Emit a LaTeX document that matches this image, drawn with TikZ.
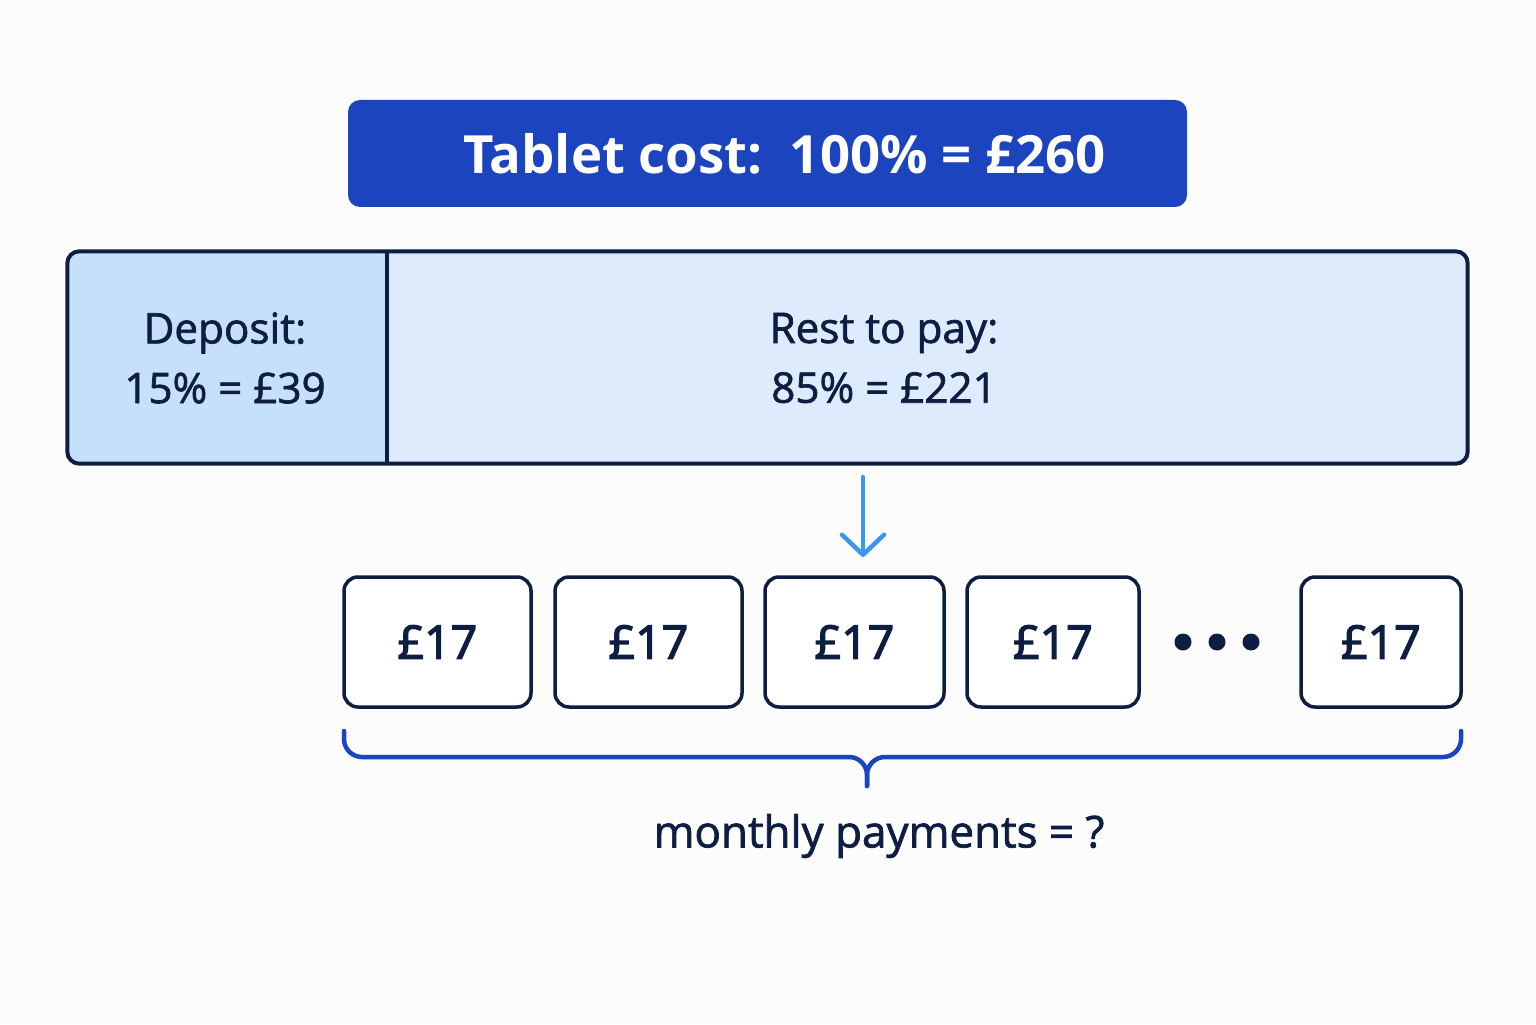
\documentclass[tikz,border=0pt]{standalone}
\usepackage{fontspec}
\setmainfont{Open Sans}
\newfontfamily\medfont[FakeBold=1.6]{Open Sans}
\newfontfamily\semifont[FakeBold=3]{Open Sans}
\usetikzlibrary{arrows.meta, positioning}

\definecolor{bgwhite}{RGB}{252,252,253}
\definecolor{ink}{RGB}{14,30,66}
\definecolor{titleblue}{RGB}{27,68,190}
\definecolor{depfill}{RGB}{198,224,250}
\definecolor{restfill}{RGB}{221,235,252}
\definecolor{arrowblue}{RGB}{58,150,240}
\definecolor{braceblue}{RGB}{26,68,196}

\begin{document}
\begin{tikzpicture}[
		titlebox/.style = {fill=titleblue, rounded corners=0.12cm, minimum width=8.39cm, minimum height=1.07cm, text=white, font=\fontsize{15}{18}\selectfont\bfseries},
		cell/.style = {rectangle, minimum height=2.11cm, inner sep=0pt},
		celltext/.style = {align=center, text=ink, font=\medfont\fontsize{12}{17}\selectfont},
		pay/.style = {draw=ink, line width=0.035cm, rounded corners=0.14cm, fill=white, minimum height=1.30cm, text=ink, font=\semifont\fontsize{13.2}{16}\selectfont},
		bracket/.style = {draw=braceblue, line width=0.045cm, rounded corners=0.18cm, line cap=round},
		>={Straight Barb[length=0.2cm, width=0.42cm, round]}
		]
		\useasboundingbox[fill=bgwhite] (0,0) rectangle (15.36,10.24);
		
		% Title
		\node[titlebox] (title) at (7.675,8.705) {\hspace*{0.34cm}Tablet cost:\ \ 100\% = £260};
		
		% Bar
		\node[cell, fill=restfill, minimum width=13.99cm, rounded corners=0.12cm] (bar) at (7.675,6.665) {};
		\begin{scope}
			\clip[rounded corners=0.12cm] (bar.south west) rectangle (bar.north east);
			\fill[depfill] (bar.south west) rectangle (3.87,7.72);
		\end{scope}
		\draw[ink, line width=0.04cm, rounded corners=0.12cm] (bar.south west) rectangle (bar.north east);
		\draw[ink, line width=0.04cm] (3.87,7.72) -- (3.87,5.61);
		\node[celltext] (deposit) at (2.25,6.66) {Deposit:\\15\% = £39};
		\node[celltext] (rest) at (8.84,6.66) {Rest to pay:\\85\% = £221};
		
		% Payments
		\node[pay, minimum width=1.87cm] (p1) at (4.375,3.82) {£17};
		\node[pay, minimum width=1.87cm, right=0.205cm of p1] (p2) {£17};
		\node[pay, minimum width=1.79cm, right=0.195cm of p2] (p3) {£17};
		\node[pay, minimum width=1.72cm, right=0.195cm of p3] (p4) {£17};
		\node[pay, minimum width=1.60cm] (p5) at (13.81,3.82) {£17};
		\foreach \x in {11.83,12.17,12.51}
			\fill[ink] (\x,3.82) circle (0.085);
		
		% Arrow
		\coordinate (atop) at (8.63,5.47);
		\coordinate (abot) at (8.63,4.67);
		\draw[->, arrowblue, line width=0.045cm, line cap=round] (atop) -- (abot);
		
		% Brace
		\coordinate (bl) at (3.44,2.93);
		\coordinate (br) at (14.61,2.93);
		\coordinate (bmid) at (8.67,2.67);
		\coordinate (btip) at (8.67,2.38);
		\draw[bracket] (bl) |- (bmid) -- (btip);
		\draw[bracket] (br) |- (bmid) -- (btip);
		\node[text=ink, font=\medfont\fontsize{12.5}{15}\selectfont] (question) at (8.79,1.88) {monthly payments = ?};
	\end{tikzpicture}
\end{document}
